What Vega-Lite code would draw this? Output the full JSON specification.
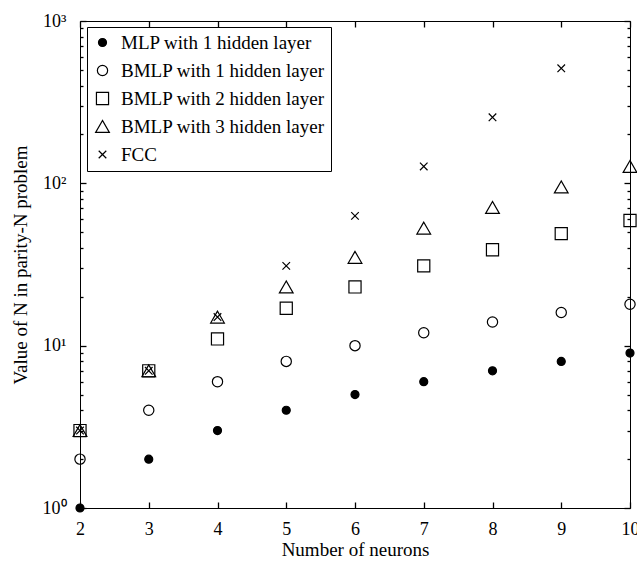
{
  "$schema": "https://vega.github.io/schema/vega-lite/v6.json",
  "autosize": {"type": "none"},
  "padding": {"left": 80, "top": 21, "right": 7, "bottom": 57},
  "width": 550,
  "height": 487,
  "background": "white",
  "config": {
    "view": {"stroke": "black", "strokeWidth": 1},
    "font": "Liberation Serif",
    "axis": {
      "domainColor": "black",
      "labelColor": "black",
      "titleColor": "black",
      "labelFont": "Liberation Serif",
      "titleFont": "Liberation Serif",
      "titleFontWeight": "normal",
      "grid": false
    },
    "legend": {
      "labelFont": "Liberation Serif",
      "labelColor": "black"
    }
  },
  "data": {
    "values": [
      {"n": 2, "v": 1, "s": "MLP with 1 hidden layer"},
      {"n": 3, "v": 2, "s": "MLP with 1 hidden layer"},
      {"n": 4, "v": 3, "s": "MLP with 1 hidden layer"},
      {"n": 5, "v": 4, "s": "MLP with 1 hidden layer"},
      {"n": 6, "v": 5, "s": "MLP with 1 hidden layer"},
      {"n": 7, "v": 6, "s": "MLP with 1 hidden layer"},
      {"n": 8, "v": 7, "s": "MLP with 1 hidden layer"},
      {"n": 9, "v": 8, "s": "MLP with 1 hidden layer"},
      {"n": 10, "v": 9, "s": "MLP with 1 hidden layer"},
      {"n": 2, "v": 2, "s": "BMLP with 1 hidden layer"},
      {"n": 3, "v": 4, "s": "BMLP with 1 hidden layer"},
      {"n": 4, "v": 6, "s": "BMLP with 1 hidden layer"},
      {"n": 5, "v": 8, "s": "BMLP with 1 hidden layer"},
      {"n": 6, "v": 10, "s": "BMLP with 1 hidden layer"},
      {"n": 7, "v": 12, "s": "BMLP with 1 hidden layer"},
      {"n": 8, "v": 14, "s": "BMLP with 1 hidden layer"},
      {"n": 9, "v": 16, "s": "BMLP with 1 hidden layer"},
      {"n": 10, "v": 18, "s": "BMLP with 1 hidden layer"},
      {"n": 2, "v": 3, "s": "BMLP with 2 hidden layer"},
      {"n": 3, "v": 7, "s": "BMLP with 2 hidden layer"},
      {"n": 4, "v": 11, "s": "BMLP with 2 hidden layer"},
      {"n": 5, "v": 17, "s": "BMLP with 2 hidden layer"},
      {"n": 6, "v": 23, "s": "BMLP with 2 hidden layer"},
      {"n": 7, "v": 31, "s": "BMLP with 2 hidden layer"},
      {"n": 8, "v": 39, "s": "BMLP with 2 hidden layer"},
      {"n": 9, "v": 49, "s": "BMLP with 2 hidden layer"},
      {"n": 10, "v": 59, "s": "BMLP with 2 hidden layer"},
      {"n": 2, "v": 3, "s": "BMLP with 3 hidden layer"},
      {"n": 3, "v": 7, "s": "BMLP with 3 hidden layer"},
      {"n": 4, "v": 15, "s": "BMLP with 3 hidden layer"},
      {"n": 5, "v": 23, "s": "BMLP with 3 hidden layer"},
      {"n": 6, "v": 35, "s": "BMLP with 3 hidden layer"},
      {"n": 7, "v": 53, "s": "BMLP with 3 hidden layer"},
      {"n": 8, "v": 71, "s": "BMLP with 3 hidden layer"},
      {"n": 9, "v": 95, "s": "BMLP with 3 hidden layer"},
      {"n": 10, "v": 127, "s": "BMLP with 3 hidden layer"},
      {"n": 2, "v": 3, "s": "FCC"},
      {"n": 3, "v": 7, "s": "FCC"},
      {"n": 4, "v": 15, "s": "FCC"},
      {"n": 5, "v": 31, "s": "FCC"},
      {"n": 6, "v": 63, "s": "FCC"},
      {"n": 7, "v": 127, "s": "FCC"},
      {"n": 8, "v": 255, "s": "FCC"},
      {"n": 9, "v": 511, "s": "FCC"}
    ]
  },
  "layer": [
    {
      "mark": {"type": "point", "opacity": 0},
      "encoding": {
        "x": {
          "field": "n", "type": "quantitative",
          "scale": {"domain": [2, 10], "nice": false},
          "axis": {"orient": "top", "values": [2,3,4,5,6,7,8,9,10], "labels": false, "ticks": true, "tickColor": "black", "tickWidth": 1.3, "tickSize": 6, "offset": -6, "domain": false, "title": null}
        },
        "y": {
          "field": "v", "type": "quantitative",
          "scale": {"type": "log", "domain": [1, 1000], "nice": false},
          "axis": {"orient": "right", "values": [1,10,100,1000], "labels": false, "ticks": true, "tickColor": "black", "tickWidth": 1.3, "domain": false, "title": null, "tickSize": 6, "offset": -6}
        }
      }
    },
    {
      "mark": {"type": "point", "opacity": 0},
      "encoding": {
        "x": {"field": "n", "type": "quantitative", "axis": null},
        "y": {
          "field": "v", "type": "quantitative",
          "axis": {"orient": "right", "values": [2,3,4,5,6,7,8,9,20,30,40,50,60,70,80,90,200,300,400,500,600,700,800,900], "labels": false, "ticks": true, "tickColor": "black", "tickWidth": 1.3, "domain": false, "title": null, "tickSize": 3, "offset": -3}
        }
      }
    },
    {
      "mark": {"type": "point", "opacity": 0},
      "encoding": {
        "x": {"field": "n", "type": "quantitative", "axis": null},
        "y": {
          "field": "v", "type": "quantitative",
          "axis": {"orient": "left", "values": [2,3,4,5,6,7,8,9,20,30,40,50,60,70,80,90,200,300,400,500,600,700,800,900], "labels": false, "ticks": true, "tickColor": "black", "tickWidth": 1.3, "domain": false, "title": null, "tickSize": 3, "offset": -3}
        }
      }
    },
    {
      "mark": {"type": "point", "strokeWidth": 1.2, "opacity": 1},
      "encoding": {
        "x": {
          "field": "n", "type": "quantitative",
          "axis": {
            "orient": "bottom", "values": [2,3,4,5,6,7,8,9,10], "ticks": true, "tickColor": "black", "tickWidth": 1.3, "tickSize": 6, "offset": -6, "domain": false,
            "labelFontSize": 18, "labelPadding": 12, "labelFlush": false,
            "title": "Number of neurons", "titleFontSize": 19, "titlePadding": 2
          }
        },
        "y": {
          "field": "v", "type": "quantitative",
          "axis": {
            "orient": "left",
            "values": [1,10,100,1000],
            "ticks": true, "tickColor": "black", "tickWidth": 1.3, "tickSize": 6, "offset": -6, "domain": false,
            "labelExpr": "datum.value === 1 ? '10⁰' : datum.value === 10 ? '10¹' : datum.value === 100 ? '10²' : '10³'",
            "labelFontSize": 18, "labelPadding": 14, "labelFlush": false,
            "title": "Value of N in parity-N problem", "titleFontSize": 19, "titlePadding": 12
          }
        },
        "shape": {
          "field": "s", "type": "nominal",
          "scale": {
            "domain": ["MLP with 1 hidden layer", "BMLP with 1 hidden layer", "BMLP with 2 hidden layer", "BMLP with 3 hidden layer", "FCC"],
            "range": ["circle", "circle", "square", "triangle-up", "M-0.5,-0.5L0.5,0.5M-0.5,0.5L0.5,-0.5"]
          },
          "legend": {
            "title": null, "orient": "none", "legendX": 7, "legendY": 6,
            "strokeColor": "black", "fillColor": "white", "padding": 6,
            "labelFontSize": 19, "labelOffset": 9, "labelLimit": 400, "rowPadding": 8, "symbolStrokeWidth": 1.2
          }
        },
        "fill": {
          "field": "s", "type": "nominal",
          "scale": {
            "domain": ["MLP with 1 hidden layer", "BMLP with 1 hidden layer", "BMLP with 2 hidden layer", "BMLP with 3 hidden layer", "FCC"],
            "range": ["black", "transparent", "transparent", "transparent", "transparent"]
          }
        },
        "stroke": {
          "field": "s", "type": "nominal",
          "scale": {
            "domain": ["MLP with 1 hidden layer", "BMLP with 1 hidden layer", "BMLP with 2 hidden layer", "BMLP with 3 hidden layer", "FCC"],
            "range": ["black", "black", "black", "black", "black"]
          }
        },
        "size": {
          "field": "s", "type": "nominal",
          "scale": {
            "domain": ["MLP with 1 hidden layer", "BMLP with 1 hidden layer", "BMLP with 2 hidden layer", "BMLP with 3 hidden layer", "FCC"],
            "range": [64, 230, 180, 240, 56]
          }
        }
      }
    }
  ],
  "resolve": {"axis": {"x": "independent", "y": "independent"}}
}
